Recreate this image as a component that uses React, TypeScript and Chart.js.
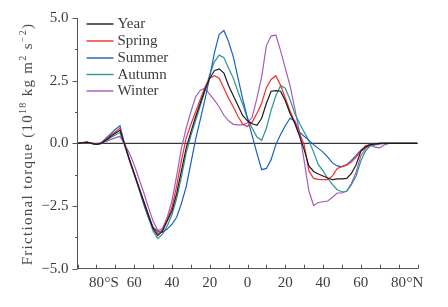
import React, { useEffect, useRef } from "react";
import { Chart, registerables } from "chart.js";

Chart.register(...registerables);

// Latitude grid (negative = south, positive = north)
const latitudes = [
  -90, -87.5, -85, -82.5, -80, -77.5, -75, -72.5, -70, -67.5,
  -65, -62.5, -60, -57.5, -55, -52.5, -50, -47.5, -45, -42.5,
  -40, -37.5, -35, -32.5, -30, -27.5, -25, -22.5, -20, -17.5,
  -15, -12.5, -10, -7.5, -5, -2.5, 0, 2.5, 5, 7.5,
  10, 12.5, 15, 17.5, 20, 22.5, 25, 27.5, 30, 32.5,
  35, 37.5, 40, 42.5, 45, 47.5, 50, 52.5, 55, 57.5,
  60, 62.5, 65, 67.5, 70, 72.5, 75, 77.5, 80, 82.5,
  85, 87.5, 90,
];

const yearValues = [
  0, 0.02, 0.04, 0.0, -0.04, 0.0, 0.12, 0.27, 0.4, 0.52,
  -0.05, -0.65, -1.2, -1.75, -2.3, -2.85, -3.4, -3.68, -3.5, -3.1,
  -2.7, -2.0, -1.1, -0.2, 0.45, 1.05, 1.6, 2.15, 2.6, 2.9,
  2.97, 2.8, 2.3, 1.9, 1.5, 1.1, 0.9, 0.78, 0.72, 1.0,
  1.6, 2.08, 2.1, 2.08, 1.7, 1.2, 0.8, 0.3, -0.25, -0.9,
  -1.12, -1.22, -1.3, -1.38, -1.45, -1.42, -1.42, -1.4, -1.2, -0.85,
  -0.32, -0.15, -0.05, -0.02, 0, 0, 0, 0, 0, 0,
  0, 0, 0,
];

const springValues = [
  0, 0.02, 0.05, 0.0, -0.04, 0.0, 0.15, 0.32, 0.45, 0.6,
  -0.05, -0.65, -1.2, -1.75, -2.3, -2.85, -3.35, -3.6, -3.45, -3.05,
  -2.55, -1.7, -0.7, 0.2, 0.75, 1.25, 1.75, 2.25, 2.6, 2.7,
  2.6, 2.2, 1.8, 1.45, 1.07, 0.76, 0.67, 0.85, 1.2, 1.6,
  2.22, 2.55, 2.7, 2.32, 1.8, 1.3, 0.85, 0.4, -0.05, -1.1,
  -1.4, -1.44, -1.45, -1.45, -1.3, -1.0, -0.93, -0.87, -0.75, -0.55,
  -0.3, -0.1, -0.05, -0.02, 0, 0, 0, 0, 0, 0,
  0, 0, 0,
];

const summerValues = [
  0, 0.03, 0.06, 0.0, -0.04, 0.02, 0.2, 0.38, 0.55, 0.7,
  -0.05, -0.65, -1.2, -1.8, -2.4, -2.95, -3.35, -3.5, -3.55, -3.42,
  -3.22, -2.95, -2.4, -1.75, -0.8, 0.15, 0.95, 1.75, 2.65, 3.62,
  4.35, 4.5, 4.05, 3.45, 2.6, 1.75, 1.0, 0.3, -0.4, -1.05,
  -1.0, -0.65, -0.05, 0.35, 0.7, 1.0, 0.9, 0.45, 0.28, 0.12,
  -0.05, -0.2, -0.35, -0.55, -0.78, -0.9, -0.93, -0.85, -0.68, -0.48,
  -0.27, -0.12, -0.05, -0.02, 0, 0, 0, 0, 0, 0,
  0, 0, 0,
];

const autumnValues = [
  0, 0.02, 0.04, 0.0, -0.04, 0.0, 0.1, 0.22, 0.33, 0.43,
  -0.1, -0.7, -1.25, -1.8, -2.4, -2.95, -3.5, -3.8, -3.62, -3.3,
  -2.85, -2.2, -1.35, -0.4, 0.3, 0.9, 1.5, 2.1, 2.75, 3.25,
  3.52, 3.42, 3.0, 2.6, 2.05, 1.55, 1.0, 0.6, 0.25, 0.12,
  0.6, 1.32, 1.9, 2.3, 2.2, 1.75, 1.2, 0.8, 0.45, 0.1,
  -0.35, -0.85, -1.1, -1.4, -1.65, -1.85, -1.93, -1.92, -1.65, -1.3,
  -0.7, -0.3, -0.1, -0.06, -0.03, 0, 0, 0, 0, 0,
  0, 0, 0,
];

const winterValues = [
  0, 0.02, 0.03, 0.0, -0.03, 0.0, 0.08, 0.15, 0.22, 0.28,
  -0.05, -0.4, -0.85, -1.4, -1.95, -2.55, -3.1, -3.48, -3.4, -2.95,
  -2.3, -1.3, -0.2, 0.6, 1.25, 1.85, 2.12, 2.2, 1.95, 1.72,
  1.45, 1.12, 0.9, 0.76, 0.74, 0.74, 0.82, 1.05, 1.8, 2.65,
  3.9, 4.28, 4.32, 3.7, 3.0, 2.3, 1.4, 0.45, -0.7, -1.9,
  -2.48, -2.36, -2.33, -2.3, -2.15, -1.98, -1.98, -1.9, -1.6, -1.15,
  -0.5, -0.2, -0.06, -0.15, -0.18, -0.06, 0, 0, 0, 0,
  0, 0, 0,
];

const seriesNames = ["Year", "Spring", "Summer", "Autumn", "Winter"];
const seriesValues = [yearValues, springValues, summerValues, autumnValues, winterValues];
const seriesColors = ["#1c1c1c", "#f42c2c", "#1b5fc6", "#2a9590", "#a55cbd"];

const yMajorTicks = [-5, -2.5, 0, 2.5, 5];
const yMinorTicks = [-3.75, -1.25, 1.25, 3.75];
const xTickValues = [-90, -80, -70, -60, -50, -40, -30, -20, -10, 0, 10, 20, 30, 40, 50, 60, 70, 80, 90];
const xLabelValues = [-80, -60, -40, -20, 0, 20, 40, 60, 80];
const xLabelTexts = ["80", "60", "40", "20", "0", "20", "40", "60", "80"];
const xLabelSuffixes = ["°S", "", "", "", "", "", "", "", "°N"];

const FONT_FAMILY = "'Liberation Serif', 'Times New Roman', serif";
const TEXT_COLOR = "#3c3c3c";
const AXIS_COLOR = "#555";

const decorPlugin = {
  id: "decor",
  beforeDatasetsDraw(chart: any) {
    const { ctx, chartArea, scales } = chart;
    const y = scales.y;
    const y0 = y.getPixelForValue(0);
    ctx.save();
    ctx.strokeStyle = "#3a3a3a";
    ctx.lineWidth = 1.3;
    ctx.beginPath();
    ctx.moveTo(chartArea.left, y0);
    ctx.lineTo(chartArea.right, y0);
    ctx.stroke();
    ctx.restore();
  },
  afterDraw(chart: any) {
    const { ctx, chartArea, scales } = chart;
    const x = scales.x;
    const y = scales.y;
    ctx.save();
    ctx.strokeStyle = AXIS_COLOR;
    ctx.lineWidth = 1;
    for (const v of yMajorTicks) {
      const py = Math.round(y.getPixelForValue(v)) + 0.5;
      ctx.beginPath();
      ctx.moveTo(chartArea.left - 5, py);
      ctx.lineTo(chartArea.left, py);
      ctx.stroke();
    }
    for (const v of yMinorTicks) {
      const py = Math.round(y.getPixelForValue(v)) + 0.5;
      ctx.beginPath();
      ctx.moveTo(chartArea.left - 2.5, py);
      ctx.lineTo(chartArea.left, py);
      ctx.stroke();
    }
    for (const v of xTickValues) {
      const px = Math.round(x.getPixelForValue(v)) + 0.5;
      ctx.beginPath();
      ctx.moveTo(px, chartArea.bottom);
      ctx.lineTo(px, chartArea.bottom - 4);
      ctx.stroke();
    }
    ctx.fillStyle = TEXT_COLOR;
    ctx.font = `15px ${FONT_FAMILY}`;
    ctx.textBaseline = "middle";
    xLabelValues.forEach((v, i) => {
      const px = x.getPixelForValue(v);
      const main = xLabelTexts[i];
      const w = ctx.measureText(main).width;
      ctx.textAlign = "left";
      ctx.fillText(main, px - w / 2, 283);
      if (xLabelSuffixes[i]) {
        ctx.fillText(xLabelSuffixes[i], px + w / 2 + 0.5, 283);
      }
    });

    const parts = [
      { t: "Frictional torque (10", sup: false },
      { t: "18", sup: true },
      { t: " kg m", sup: false },
      { t: "2", sup: true },
      { t: " s", sup: false },
      { t: "−2", sup: true },
      { t: ")", sup: false },
    ];
    ctx.save();
    ctx.translate(27, 144);
    ctx.rotate(-Math.PI / 2);
    ctx.fillStyle = "#4a4a4a";
    ctx.textAlign = "left";
    ctx.textBaseline = "alphabetic";
    (ctx as any).letterSpacing = "1.3px";
    let total = 0;
    for (const p of parts) {
      ctx.font = p.sup ? `10px ${FONT_FAMILY}` : `15px ${FONT_FAMILY}`;
      total += ctx.measureText(p.t).width;
    }
    let cx = -total / 2;
    for (const p of parts) {
      ctx.font = p.sup ? `10px ${FONT_FAMILY}` : `15px ${FONT_FAMILY}`;
      ctx.fillText(p.t, cx, p.sup ? -1 : 5);
      cx += ctx.measureText(p.t).width;
    }
    ctx.restore();

    ctx.font = `15px ${FONT_FAMILY}`;
    ctx.textBaseline = "middle";
    ctx.textAlign = "left";
    const rows = [24, 41, 58, 74.5, 91];
    chart.data.datasets.forEach((ds: any, i: number) => {
      const ry = rows[i];
      ctx.strokeStyle = ds.borderColor;
      ctx.lineWidth = 1.4;
      ctx.beginPath();
      ctx.moveTo(86.5, ry);
      ctx.lineTo(113.5, ry);
      ctx.stroke();
      ctx.fillStyle = TEXT_COLOR;
      ctx.fillText(ds.label, 117.5, ry + 0.5);
    });
    ctx.restore();
  },
};

export default function App() {
  const canvasRef = useRef<HTMLCanvasElement | null>(null);

  useEffect(() => {
    const canvas = canvasRef.current;
    if (!canvas) return;
    const chart = new Chart(canvas, {
      type: "line",
      data: {
        datasets: seriesNames.map((name, si) => ({
          label: name,
          data: latitudes.map((lat, i) => ({ x: lat, y: seriesValues[si][i] })),
          borderColor: seriesColors[si],
          backgroundColor: seriesColors[si],
          borderWidth: 1.2,
          pointRadius: 0,
          tension: 0,
          fill: false,
        })),
      },
      options: {
        responsive: false,
        animation: false,
        devicePixelRatio: 1,
        layout: { padding: { left: 0, right: 30.5, top: 15.5, bottom: 0 } },
        plugins: {
          legend: { display: false },
          tooltip: { enabled: false },
          title: { display: false },
        },
        scales: {
          x: {
            type: "linear",
            min: -90,
            max: 90,
            grid: { display: false, drawTicks: false },
            border: { display: true, color: AXIS_COLOR, width: 1 },
            ticks: { display: false, stepSize: 10 },
            afterFit: (scale: any) => {
              scale.height = 38.3;
            },
          },
          y: {
            type: "linear",
            min: -5,
            max: 5,
            grid: { display: false, drawTicks: false },
            border: { display: true, color: AXIS_COLOR, width: 1 },
            ticks: {
              stepSize: 2.5,
              padding: 9,
              color: TEXT_COLOR,
              font: { family: FONT_FAMILY, size: 15 },
              callback: (v: any) => Number(v).toFixed(1).replace("-", "−"),
            },
            afterFit: (scale: any) => {
              scale.width = 77.5;
            },
          },
        },
      },
      plugins: [decorPlugin],
    });
    return () => chart.destroy();
  }, []);

  return (
    <div style={{ position: "fixed", left: 0, top: 0, width: 448, height: 307, background: "#fff" }}>
      <canvas ref={canvasRef} width={448} height={307} style={{ width: 448, height: 307, display: "block" }} />
    </div>
  );
}
